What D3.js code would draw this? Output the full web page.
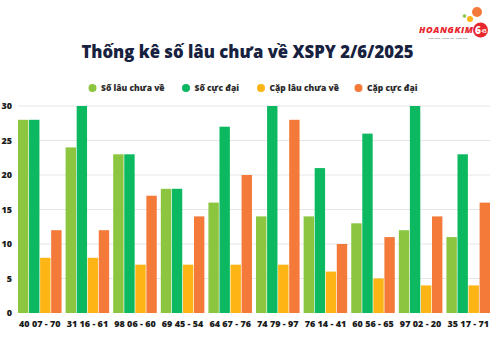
<!DOCTYPE html>
<html><head><meta charset="utf-8">
<script src="https://cdn.jsdelivr.net/npm/d3@7"></script>
<style>body{margin:0;background:#fff}svg{display:block}</style>
</head><body>
<svg id="c" width="495" height="345"></svg>
<script>
const categories = ["40 07 - 70","31 16 - 61","98 06 - 60","69 45 - 54","64 67 - 76","74 79 - 97","76 14 - 41","60 56 - 65","97 02 - 20","35 17 - 71"];
const seriesNames = ["Số lâu chưa về","Số cực đại","Cặp lâu chưa về","Cặp cực đại"];
const soLauChuaVe = [28,24,23,18,16,14,14,13,12,11];
const soCucDai = [28,30,23,18,27,30,21,26,30,23];
const capLauChuaVe = [8,8,7,7,7,7,6,5,4,4];
const capCucDai = [12,12,17,14,20,28,10,11,14,16];
const yTicks = [0,5,10,15,20,25,30];
const colors = ["#8cc53f","#0cb960","#fdb415","#f47a3a"];
const titleText = "Thống kê số lâu chưa về XSPY 2/6/2025";

const series = [soLauChuaVe, soCucDai, capLauChuaVe, capCucDai];
const svg = d3.select("#c");
const fontF = "'Open Sans', 'Noto Sans', sans-serif";

const x0 = d3.scaleBand().domain(categories).range([18, 490]).paddingInner(0.085).paddingOuter(0);
const x1 = d3.scaleBand().domain(d3.range(4)).range([0, x0.bandwidth()]).paddingInner(0.06);
const y = d3.scaleLinear().domain([0, 30]).range([313, 106]);

// gridlines
svg.append("g").selectAll("line").data(yTicks.filter(d => d > 0)).join("line")
  .attr("x1", 18).attr("x2", 490)
  .attr("y1", d => y(d)).attr("y2", d => y(d))
  .attr("stroke", "#e6e6e6").attr("stroke-width", 1);

// y axis
const yAxis = d3.axisLeft(y).tickValues(yTicks).tickSize(0).tickPadding(0);
const yg = svg.append("g").attr("transform", "translate(12,0)").call(yAxis);
yg.select(".domain").remove();
yg.selectAll("text").attr("font-family", fontF).attr("font-weight", 800)
  .attr("font-size", 9).attr("fill", "#1b1b1b");

// bars
const groups = svg.append("g").selectAll("g").data(categories).join("g")
  .attr("transform", d => `translate(${x0(d)},0)`);
groups.selectAll("rect").data((d, i) => series.map((s, k) => ({k, v: s[i]}))).join("rect")
  .attr("x", d => x1(d.k)).attr("width", x1.bandwidth())
  .attr("y", d => y(d.v)).attr("height", d => y(0) - y(d.v))
  .attr("fill", d => colors[d.k]);

// x axis
const xAxis = d3.axisBottom(x0).tickSize(0).tickPadding(0);
const xg = svg.append("g").attr("transform", "translate(0,327)").call(xAxis);
xg.select(".domain").remove();
xg.selectAll("text").attr("font-family", fontF).attr("font-weight", 800)
  .attr("font-size", 9).attr("fill", "#1b1b1b").attr("dy", 0);

// title
svg.append("text").attr("x", 247.5).attr("y", 58).attr("text-anchor", "middle")
  .attr("font-family", fontF).attr("font-weight", 800).attr("font-size", 16.7)
  .attr("fill", "#172240").text(titleText);

// legend
const legX = [92.5, 186, 261, 358.5];
const lg = svg.append("g").selectAll("g").data(seriesNames).join("g")
  .attr("transform", (d, i) => `translate(${legX[i]},88)`);
lg.append("circle").attr("r", 4).attr("fill", (d, i) => colors[i]);
lg.append("text").attr("x", 8.5).attr("y", 3).attr("font-family", fontF)
  .attr("font-weight", 800).attr("font-size", 8.5).attr("fill", "#2b2b2b").text(d => d);

// logo
const logo = svg.append("g");
logo.append("circle").attr("cx", 477).attr("cy", 12).attr("r", 5).attr("fill", "#f47a3a");
logo.append("circle").attr("cx", 470).attr("cy", 19).attr("r", 3).attr("fill", "#fdb415");
logo.append("circle").attr("cx", 464.5).attr("cy", 16).attr("r", 1.8).attr("fill", "#8cc53f");
logo.append("circle").attr("cx", 480.5).attr("cy", 30).attr("r", 7.5).attr("fill", "#e8262d");
logo.append("text").attr("x", 478).attr("y", 33.5).attr("text-anchor", "middle")
  .attr("font-family", fontF).attr("font-weight", 800).attr("font-size", 10).attr("fill", "#fff").text("6");
logo.append("text").attr("x", 484).attr("y", 33).attr("text-anchor", "middle")
  .attr("font-family", fontF).attr("font-weight", 700).attr("font-size", 4.5).attr("fill", "#fff").text("45");
logo.append("text").attr("x", 473).attr("y", 33).attr("text-anchor", "end")
  .attr("font-family", fontF).attr("font-weight", 800).attr("font-style", "italic")
  .attr("font-size", 9).attr("textLength", 54).attr("fill", "#e8262d").text("HOANGKIM");
logo.append("text").attr("x", 448).attr("y", 39).attr("text-anchor", "middle")
  .attr("font-family", fontF).attr("font-size", 2.5).attr("fill", "#555").text("Minh bạch - Chính xác - Cùng phát");
</script>
</body></html>
